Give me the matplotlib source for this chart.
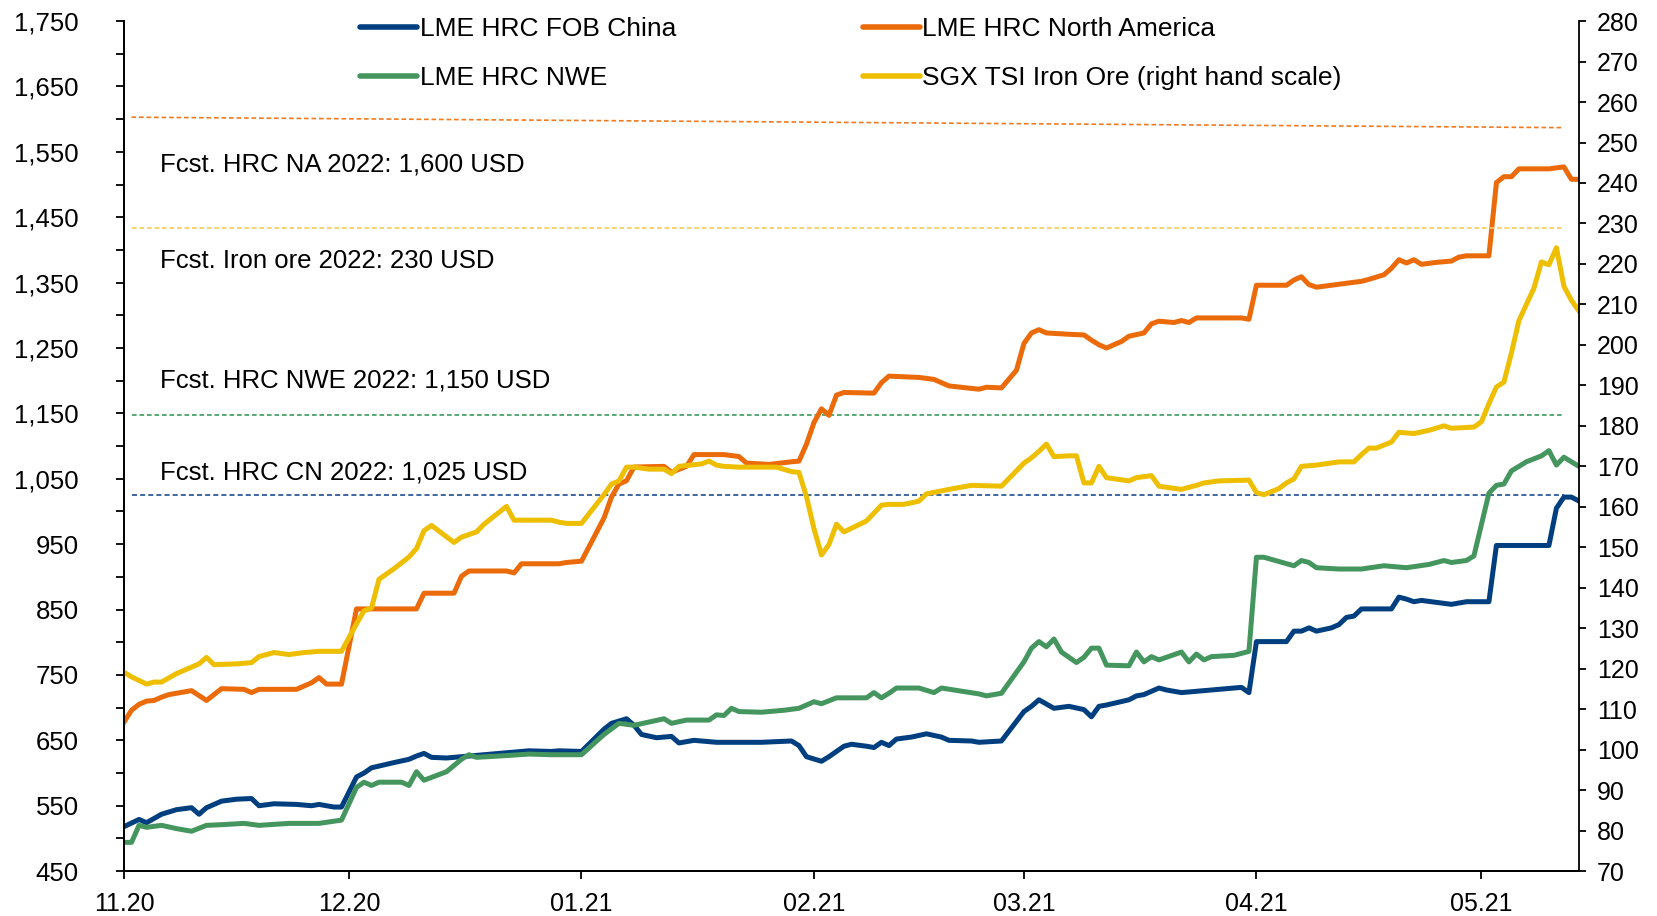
import numpy as np
import pandas as pd
import matplotlib
matplotlib.use("Agg")
import matplotlib.pyplot as plt
import matplotlib.dates as mdates
from matplotlib.ticker import FixedLocator, FuncFormatter

plt.rcParams['font.family'] = ['Liberation Sans', 'DejaVu Sans']

# LME HRC FOB China (USD/t, left scale)
china_dates = ['2020-11-01', '2020-11-03', '2020-11-04', '2020-11-06', '2020-11-08', '2020-11-10',
               '2020-11-11', '2020-11-12', '2020-11-14', '2020-11-16', '2020-11-18', '2020-11-19',
               '2020-11-21', '2020-11-24', '2020-11-26', '2020-11-27', '2020-11-29', '2020-11-30',
               '2020-12-02', '2020-12-03', '2020-12-04', '2020-12-07', '2020-12-09', '2020-12-10',
               '2020-12-11', '2020-12-12', '2020-12-14', '2020-12-17', '2020-12-20', '2020-12-22',
               '2020-12-25', '2020-12-28', '2020-12-29', '2021-01-01', '2021-01-04', '2021-01-05',
               '2021-01-07', '2021-01-08', '2021-01-09', '2021-01-11', '2021-01-13', '2021-01-14',
               '2021-01-16', '2021-01-19', '2021-01-25', '2021-01-29', '2021-01-30', '2021-01-31',
               '2021-02-02', '2021-02-03', '2021-02-05', '2021-02-06', '2021-02-08', '2021-02-09',
               '2021-02-10', '2021-02-11', '2021-02-12', '2021-02-14', '2021-02-16', '2021-02-18',
               '2021-02-19', '2021-02-22', '2021-02-23', '2021-02-26', '2021-03-01', '2021-03-02',
               '2021-03-03', '2021-03-05', '2021-03-07', '2021-03-09', '2021-03-10', '2021-03-11',
               '2021-03-12', '2021-03-15', '2021-03-16', '2021-03-17', '2021-03-19', '2021-03-20',
               '2021-03-22', '2021-03-24', '2021-03-27', '2021-03-30', '2021-03-31', '2021-04-01',
               '2021-04-05', '2021-04-06', '2021-04-07', '2021-04-08', '2021-04-09', '2021-04-11',
               '2021-04-12', '2021-04-13', '2021-04-14', '2021-04-15', '2021-04-19', '2021-04-20',
               '2021-04-21', '2021-04-22', '2021-04-23', '2021-04-25', '2021-04-27', '2021-04-29',
               '2021-05-02', '2021-05-03', '2021-05-10', '2021-05-11', '2021-05-12', '2021-05-13',
               '2021-05-14']
china_vals = [518, 529, 524, 537, 544, 547,
              537, 547, 557, 560, 561, 550,
              553, 552, 550, 552, 548, 548,
              594, 600, 608, 616, 621, 626,
              630, 624, 623, 626, 629, 631,
              634, 633, 634, 633, 667, 676,
              683, 673, 659, 654, 656, 646,
              650, 647, 647, 649, 642, 625,
              618, 625, 641, 644, 641, 639,
              647, 642, 652, 655, 660, 655,
              650, 649, 647, 649, 694, 702,
              712, 699, 702, 697, 686, 702,
              704, 712, 718, 720, 730, 727,
              723, 725, 728, 731, 723, 801,
              801, 817, 817, 822, 817, 822,
              827, 838, 840, 851, 851, 869,
              866, 862, 864, 861, 858, 862,
              862, 948, 948, 1005, 1022, 1022,
              1016]

# LME HRC NWE (USD/t, left scale)
nwe_dates = ['2020-11-01', '2020-11-02', '2020-11-03', '2020-11-04', '2020-11-06', '2020-11-08',
             '2020-11-10', '2020-11-12', '2020-11-14', '2020-11-17', '2020-11-19', '2020-11-23',
             '2020-11-27', '2020-11-30', '2020-12-02', '2020-12-03', '2020-12-04', '2020-12-05',
             '2020-12-08', '2020-12-09', '2020-12-10', '2020-12-11', '2020-12-14', '2020-12-16',
             '2020-12-17', '2020-12-18', '2020-12-21', '2020-12-25', '2020-12-28', '2021-01-01',
             '2021-01-04', '2021-01-06', '2021-01-08', '2021-01-12', '2021-01-13', '2021-01-15',
             '2021-01-18', '2021-01-19', '2021-01-20', '2021-01-21', '2021-01-22', '2021-01-25',
             '2021-01-28', '2021-01-30', '2021-02-01', '2021-02-02', '2021-02-04', '2021-02-08',
             '2021-02-09', '2021-02-10', '2021-02-11', '2021-02-12', '2021-02-15', '2021-02-17',
             '2021-02-18', '2021-02-23', '2021-02-24', '2021-02-26', '2021-03-01', '2021-03-02',
             '2021-03-03', '2021-03-04', '2021-03-05', '2021-03-06', '2021-03-08', '2021-03-09',
             '2021-03-10', '2021-03-11', '2021-03-12', '2021-03-15', '2021-03-16', '2021-03-17',
             '2021-03-18', '2021-03-19', '2021-03-22', '2021-03-23', '2021-03-24', '2021-03-25',
             '2021-03-26', '2021-03-29', '2021-03-31', '2021-04-01', '2021-04-02', '2021-04-06',
             '2021-04-07', '2021-04-08', '2021-04-09', '2021-04-12', '2021-04-15', '2021-04-18',
             '2021-04-21', '2021-04-24', '2021-04-26', '2021-04-27', '2021-04-29', '2021-04-30',
             '2021-05-02', '2021-05-03', '2021-05-04', '2021-05-05', '2021-05-07', '2021-05-09',
             '2021-05-10', '2021-05-11', '2021-05-12', '2021-05-13', '2021-05-14']
nwe_vals = [494, 494, 520, 517, 520, 515,
            511, 520, 521, 523, 520, 523,
            523, 528, 578, 586, 581, 586,
            586, 581, 602, 589, 602, 621,
            628, 624, 626, 629, 628, 628,
            659, 676, 673, 683, 676, 681,
            681, 689, 688, 699, 694, 693,
            696, 699, 709, 706, 715, 715,
            723, 715, 722, 730, 730, 723,
            730, 721, 718, 722, 770, 791,
            801, 793, 805, 785, 769, 777,
            791, 791, 765, 764, 785, 770,
            778, 773, 785, 770, 782, 773,
            778, 780, 786, 930, 930, 917,
            925, 922, 914, 912, 912, 917,
            914, 919, 925, 922, 925, 932,
            1028, 1040, 1042, 1062, 1076, 1085,
            1093, 1071, 1083, 1076, 1069]

# LME HRC North America (USD/t, left scale)
na_dates = ['2020-11-01', '2020-11-02', '2020-11-03', '2020-11-04', '2020-11-05', '2020-11-06',
            '2020-11-07', '2020-11-10', '2020-11-12', '2020-11-14', '2020-11-17', '2020-11-18',
            '2020-11-19', '2020-11-24', '2020-11-26', '2020-11-27', '2020-11-28', '2020-11-30',
            '2020-12-02', '2020-12-10', '2020-12-11', '2020-12-15', '2020-12-16', '2020-12-17',
            '2020-12-22', '2020-12-23', '2020-12-24', '2020-12-29', '2020-12-30', '2021-01-01',
            '2021-01-04', '2021-01-05', '2021-01-06', '2021-01-07', '2021-01-08', '2021-01-12',
            '2021-01-13', '2021-01-15', '2021-01-16', '2021-01-20', '2021-01-22', '2021-01-23',
            '2021-01-26', '2021-01-29', '2021-01-30', '2021-01-31', '2021-02-01', '2021-02-02',
            '2021-02-03', '2021-02-04', '2021-02-05', '2021-02-09', '2021-02-10', '2021-02-11',
            '2021-02-15', '2021-02-17', '2021-02-18', '2021-02-19', '2021-02-23', '2021-02-24',
            '2021-02-26', '2021-02-28', '2021-03-01', '2021-03-02', '2021-03-03', '2021-03-04',
            '2021-03-07', '2021-03-09', '2021-03-10', '2021-03-11', '2021-03-12', '2021-03-14',
            '2021-03-15', '2021-03-17', '2021-03-18', '2021-03-19', '2021-03-21', '2021-03-22',
            '2021-03-23', '2021-03-24', '2021-03-30', '2021-03-31', '2021-04-01', '2021-04-05',
            '2021-04-06', '2021-04-07', '2021-04-08', '2021-04-09', '2021-04-11', '2021-04-13',
            '2021-04-15', '2021-04-16', '2021-04-18', '2021-04-19', '2021-04-20', '2021-04-21',
            '2021-04-22', '2021-04-23', '2021-04-25', '2021-04-27', '2021-04-28', '2021-04-29',
            '2021-05-02', '2021-05-03', '2021-05-04', '2021-05-05', '2021-05-06', '2021-05-10',
            '2021-05-12', '2021-05-13', '2021-05-14']
na_vals = [678, 696, 705, 710, 711, 716,
           720, 726, 711, 729, 728, 723,
           728, 728, 738, 746, 736, 736,
           851, 851, 875, 875, 901, 909,
           909, 906, 920, 920, 922, 924,
           990, 1022, 1042, 1047, 1068, 1069,
           1060, 1069, 1087, 1087, 1084, 1074,
           1072, 1076, 1077, 1103, 1136, 1157,
           1147, 1178, 1182, 1181, 1197, 1207,
           1205, 1202, 1197, 1192, 1187, 1190,
           1189, 1216, 1257, 1273, 1278, 1273,
           1271, 1270, 1262, 1255, 1250, 1260,
           1268, 1273, 1287, 1291, 1289, 1292,
           1289, 1296, 1296, 1294, 1346, 1346,
           1354, 1359, 1347, 1343, 1346, 1349,
           1352, 1355, 1362, 1372, 1385, 1380,
           1385, 1378, 1381, 1383, 1389, 1391,
           1391, 1503, 1512, 1512, 1524, 1524,
           1527, 1508, 1508]

# SGX TSI Iron Ore (USD/t, right scale)
ore_dates = ['2020-11-01', '2020-11-02', '2020-11-04', '2020-11-05', '2020-11-06', '2020-11-08',
             '2020-11-10', '2020-11-11', '2020-11-12', '2020-11-13', '2020-11-16', '2020-11-18',
             '2020-11-19', '2020-11-21', '2020-11-23', '2020-11-25', '2020-11-27', '2020-11-30',
             '2020-12-02', '2020-12-03', '2020-12-04', '2020-12-05', '2020-12-07', '2020-12-09',
             '2020-12-10', '2020-12-11', '2020-12-12', '2020-12-15', '2020-12-16', '2020-12-18',
             '2020-12-19', '2020-12-22', '2020-12-23', '2020-12-25', '2020-12-28', '2020-12-29',
             '2020-12-30', '2021-01-01', '2021-01-04', '2021-01-05', '2021-01-06', '2021-01-07',
             '2021-01-08', '2021-01-10', '2021-01-12', '2021-01-13', '2021-01-14', '2021-01-17',
             '2021-01-18', '2021-01-19', '2021-01-20', '2021-01-22', '2021-01-27', '2021-01-29',
             '2021-01-30', '2021-01-31', '2021-02-01', '2021-02-02', '2021-02-03', '2021-02-04',
             '2021-02-05', '2021-02-08', '2021-02-10', '2021-02-11', '2021-02-13', '2021-02-15',
             '2021-02-16', '2021-02-19', '2021-02-22', '2021-02-26', '2021-03-01', '2021-03-02',
             '2021-03-03', '2021-03-04', '2021-03-05', '2021-03-07', '2021-03-08', '2021-03-09',
             '2021-03-10', '2021-03-11', '2021-03-12', '2021-03-15', '2021-03-16', '2021-03-18',
             '2021-03-19', '2021-03-22', '2021-03-24', '2021-03-25', '2021-03-27', '2021-03-31',
             '2021-04-01', '2021-04-02', '2021-04-04', '2021-04-05', '2021-04-06', '2021-04-07',
             '2021-04-09', '2021-04-12', '2021-04-14', '2021-04-15', '2021-04-16', '2021-04-17',
             '2021-04-19', '2021-04-20', '2021-04-22', '2021-04-24', '2021-04-26', '2021-04-27',
             '2021-04-30', '2021-05-01', '2021-05-02', '2021-05-03', '2021-05-04', '2021-05-05',
             '2021-05-06', '2021-05-08', '2021-05-09', '2021-05-10', '2021-05-11', '2021-05-12',
             '2021-05-13', '2021-05-14']
ore_vals = [119.1, 118.0, 116.2, 116.7, 116.7, 118.8,
            120.4, 121.2, 122.8, 121.0, 121.2, 121.5,
            123.0, 124.0, 123.5, 124.0, 124.3, 124.3,
            131.1, 134.3, 135.0, 142.1, 144.7, 147.6,
            149.7, 154.1, 155.4, 151.2, 152.5, 153.8,
            155.7, 160.1, 156.7, 156.7, 156.7, 156.2,
            155.9, 155.9, 163.0, 165.6, 166.4, 169.8,
            169.8, 169.3, 169.3, 168.2, 170.0, 170.6,
            171.3, 170.3, 170.0, 169.8, 169.8, 168.7,
            168.5, 162.5, 154.6, 148.1, 150.7, 155.7,
            153.8, 156.5, 160.4, 160.6, 160.6, 161.4,
            163.2, 164.3, 165.3, 165.1, 170.8, 172.1,
            173.7, 175.5, 172.4, 172.6, 172.6, 165.9,
            165.9, 170.0, 167.2, 166.4, 167.2, 167.7,
            165.1, 164.3, 165.3, 165.9, 166.4, 166.6,
            163.5, 163.0, 164.5, 165.9, 166.9, 170.0,
            170.3, 171.1, 171.1, 172.9, 174.5, 174.5,
            176.0, 178.4, 178.1, 178.9, 180.0, 179.4,
            179.7, 181.0, 185.5, 189.6, 190.8, 198.0,
            206.0, 214.0, 220.5, 219.8, 224.0, 214.5,
            211.0, 208.4]

# 2022 forecasts (start/end of the dashed lines)
fcst_dates = ['2020-11-02', '2021-05-12']
fcst_na = [1603, 1587]
fcst_nwe = [1147, 1147]
fcst_cn = [1025, 1025]
fcst_ore = [229, 229]

C_CN = '#003F7F'
C_NA = '#EB6A0A'
C_NWE = '#45955F'
C_ORE = '#EEBE00'

fig = plt.figure(figsize=(16.58, 9.16), dpi=100)
ax = fig.add_axes([0.0748, 0.049, 0.8775, 0.928])
ax2 = ax.twinx()

d = pd.to_datetime
dash = (0, (2.8, 1.7))
ax.plot(d(fcst_dates), fcst_na, color='#F07A22', lw=1.2, ls=dash, zorder=1)
ax.plot(d(fcst_dates), fcst_nwe, color='#3C9A5E', lw=1.2, ls=dash, zorder=1)
ax.plot(d(fcst_dates), fcst_cn, color='#2F5B9A', lw=1.3, ls=dash, zorder=1)
ax2.plot(d(fcst_dates), fcst_ore, color='#F3CC55', lw=1.2, ls=dash, zorder=1)

lw = 3.6
l_cn, = ax.plot(d(china_dates), china_vals, color=C_CN, lw=lw, solid_joinstyle='round')
l_na, = ax.plot(d(na_dates), na_vals, color=C_NA, lw=lw, solid_joinstyle='round')
l_nwe, = ax.plot(d(nwe_dates), nwe_vals, color=C_NWE, lw=lw, solid_joinstyle='round')
l_ore, = ax2.plot(d(ore_dates), ore_vals, color=C_ORE, lw=lw, solid_joinstyle='round')

start, end = pd.Timestamp('2020-11-01'), pd.Timestamp('2021-05-14')
ax.set_xlim(start, end)
ax.set_ylim(450, 1750)
ax2.set_ylim(70, 280)

# annotations for the forecast lines
tx = pd.Timestamp('2020-11-05 18:00')
ax.text(tx, 1531, 'Fcst. HRC NA 2022: 1,600 USD', fontsize=18.5, va='center')
ax.text(tx, 1383, 'Fcst. Iron ore 2022: 230 USD', fontsize=18.5, va='center')
ax.text(tx, 1201, 'Fcst. HRC NWE 2022: 1,150 USD', fontsize=18.5, va='center')
ax.text(tx, 1059, 'Fcst. HRC CN 2022: 1,025 USD', fontsize=18.5, va='center')

# axes styling
for a in (ax, ax2):
    a.spines['top'].set_visible(False)
    for s in a.spines.values():
        s.set_linewidth(1.3)
ax.spines['right'].set_visible(False)

ax.yaxis.set_major_locator(FixedLocator(np.arange(450, 1751, 100)))
ax.yaxis.set_minor_locator(FixedLocator(np.arange(500, 1701, 100)))
ax.yaxis.set_major_formatter(FuncFormatter(lambda v, p: f'{v:,.0f}'))
ax.tick_params(axis='y', which='both', length=5.5, width=1.3, labelsize=18.5, pad=27)

ax2.yaxis.set_major_locator(FixedLocator(np.arange(70, 281, 10)))
ax2.tick_params(axis='y', length=5, width=1.3, labelsize=18, pad=8)

ax.xaxis.set_major_locator(mdates.MonthLocator())
ax.xaxis.set_major_formatter(mdates.DateFormatter('%m.%y'))
ax.tick_params(axis='x', length=6, width=1.3, labelsize=18, pad=9)

leg = fig.legend([l_cn, l_nwe, l_na, l_ore],
                 ['LME HRC FOB China', 'LME HRC NWE', 'LME HRC North America',
                  'SGX TSI Iron Ore (right hand scale)'],
                 ncol=2, loc='upper left', bbox_to_anchor=(0.2125, 0.99), frameon=False,
                 fontsize=19, handlelength=2.16, handletextpad=0.11, columnspacing=7.05,
                 labelspacing=0.95, borderpad=0.3, borderaxespad=0)
for h in leg.legend_handles:
    h.set_linewidth(4)
    h.set_solid_capstyle('round')

fig.savefig('out.png', dpi=100)
